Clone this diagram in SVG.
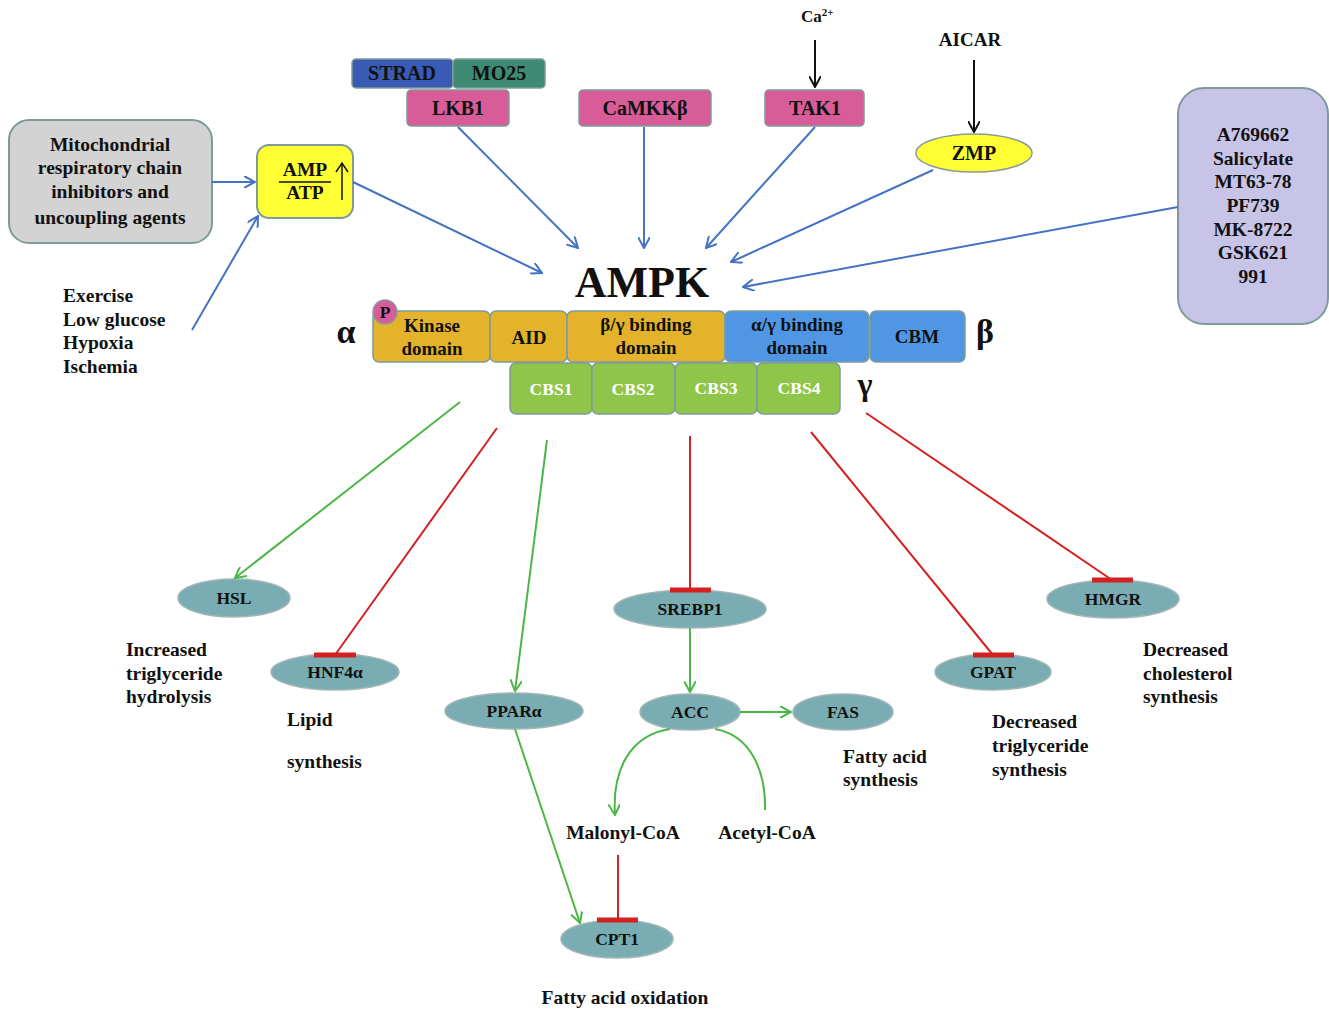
<svg xmlns="http://www.w3.org/2000/svg" width="1329" height="1010" viewBox="0 0 1329 1010">
<style>
text{font-family:"Liberation Serif","Times New Roman",serif;font-weight:bold;fill:#111}
.t{font-size:19.5px}
.n{font-size:17.5px;text-anchor:middle}
.b{font-size:20px;text-anchor:middle}
.d{font-size:19px;text-anchor:middle}
.c{text-anchor:middle}
.box{stroke:#7f9a9a;stroke-width:2}
.ell{fill:#79adb3;stroke:#a3b5b5;stroke-width:1.5}
.dom{stroke:#7f9a9a;stroke-width:1.5}
.blue{stroke:#4472c4;stroke-width:2;fill:none}
.green{stroke:#4cb648;stroke-width:2;fill:none}
.red{stroke:#d42020;stroke-width:2;fill:none}
.bar{stroke:#d42020;stroke-width:5}
.black{stroke:#111;stroke-width:2;fill:none}
</style>
<defs>
<marker id="ab" viewBox="0 0 12 12" refX="11" refY="6" markerWidth="12" markerHeight="12" markerUnits="userSpaceOnUse" orient="auto"><path d="M0,0 L11,6 L0,12" fill="none" stroke="#4472c4" stroke-width="2"/></marker>
<marker id="ag" viewBox="0 0 12 12" refX="11" refY="6" markerWidth="12" markerHeight="12" markerUnits="userSpaceOnUse" orient="auto"><path d="M0,0 L11,6 L0,12" fill="none" stroke="#4cb648" stroke-width="2"/></marker>
<marker id="ak" viewBox="0 0 12 12" refX="11" refY="6" markerWidth="12" markerHeight="12" markerUnits="userSpaceOnUse" orient="auto"><path d="M0,0 L11,6 L0,12" fill="none" stroke="#111" stroke-width="2"/></marker>
</defs>
<rect width="1329" height="1010" fill="#fff"/>

<g id="mito">
<rect class="box" x="9" y="120" width="203" height="123" rx="20" fill="#d3d3d3"/>
<text class="t c" x="110" y="151">Mitochondrial</text>
<text class="t c" x="110" y="174">respiratory chain</text>
<text class="t c" x="110" y="198">inhibitors and</text>
<text class="t c" x="110" y="224">uncoupling agents</text>
</g>

<g id="ampatp">
<rect class="box" x="257" y="145" width="96" height="73" rx="12" fill="#ffff33"/>
<text class="t c" x="305" y="176">AMP</text>
<line x1="279" y1="182" x2="331" y2="182" stroke="#111" stroke-width="1.5"/>
<text class="t c" x="305" y="199">ATP</text>
<line x1="342" y1="200" x2="342" y2="163" stroke="#111" stroke-width="1.5"/>
<path d="M336,172 L342,163 L348,172" fill="none" stroke="#111" stroke-width="1.5"/>
</g>

<g id="stimuli">
<text class="t" x="63" y="302">Exercise</text>
<text class="t" x="63" y="326">Low glucose</text>
<text class="t" x="63" y="349">Hypoxia</text>
<text class="t" x="63" y="373">Ischemia</text>
</g>

<g id="strad">
<rect class="dom" x="352" y="59" width="101" height="29" rx="4" fill="#3a5bb5"/>
<text class="b" x="402" y="80">STRAD</text>
</g>
<g id="mo25">
<rect class="dom" x="453" y="59" width="92" height="29" rx="4" fill="#3f8a72"/>
<text class="b" x="499" y="80">MO25</text>
</g>
<g id="lkb1">
<rect class="dom" x="407" y="90" width="102" height="36" rx="4" fill="#d75c98"/>
<text class="b" x="458" y="115">LKB1</text>
</g>
<g id="camkkb">
<rect class="dom" x="579" y="90" width="132" height="36" rx="4" fill="#d75c98"/>
<text class="b" x="645" y="115">CaMKKβ</text>
</g>
<g id="tak1">
<rect class="dom" x="765" y="90" width="99" height="36" rx="4" fill="#d75c98"/>
<text class="b" x="815" y="115">TAK1</text>
</g>
<g id="ca">
<text x="801" y="22" style="font-size:17px">Ca<tspan style="font-size:11px" dy="-6">2+</tspan></text>
</g>
<g id="aicar">
<text class="c" x="970" y="46" style="font-size:19px">AICAR</text>
</g>
<g id="zmp">
<ellipse cx="974" cy="153" rx="58" ry="19" fill="#ffff33" stroke="#8a9a9a" stroke-width="1.5"/>
<text class="b" x="974" y="160">ZMP</text>
</g>

<g id="activators">
<rect class="box" x="1178" y="88" width="150" height="236" rx="26" fill="#c7c4e8"/>
<text class="t c" x="1253" y="141">A769662</text>
<text class="t c" x="1253" y="165">Salicylate</text>
<text class="t c" x="1253" y="188">MT63-78</text>
<text class="t c" x="1253" y="212">PF739</text>
<text class="t c" x="1253" y="236">MK-8722</text>
<text class="t c" x="1253" y="259">GSK621</text>
<text class="t c" x="1253" y="283">991</text>
</g>

<g id="ampk">
<text class="c" x="642" y="297" style="font-size:44px">AMPK</text>
<text class="c" x="346" y="343" style="font-size:34px">α</text>
<text class="c" x="985" y="343" style="font-size:34px">β</text>
<text class="c" x="865" y="395" style="font-size:32px">γ</text>
<rect class="dom" x="373" y="311" width="117" height="51" rx="6" fill="#e3b32b"/>
<text class="d" x="432" y="332">Kinase</text>
<text class="d" x="432" y="355">domain</text>
<rect class="dom" x="490" y="311" width="77" height="51" rx="6" fill="#e3b32b"/>
<text class="d" x="529" y="344">AID</text>
<rect class="dom" x="567" y="311" width="158" height="51" rx="6" fill="#e3b32b"/>
<text class="d" x="646" y="331">β/γ binding</text>
<text class="d" x="646" y="354">domain</text>
<rect class="dom" x="725" y="311" width="144" height="51" rx="6" fill="#5097e3" stroke="#2f4a70"/>
<text class="d" x="797" y="331">α/γ binding</text>
<text class="d" x="797" y="354">domain</text>
<rect class="dom" x="870" y="311" width="95" height="51" rx="6" fill="#5097e3" stroke="#2f4a70"/>
<text class="d" x="917" y="343">CBM</text>
<circle cx="385" cy="312" r="12" fill="#d75c98" stroke="#8a9a9a" stroke-width="1.5"/>
<text class="n" x="385" y="318">P</text>
<rect class="dom" x="510" y="363" width="82" height="51" rx="6" fill="#8fc64a"/>
<text class="n" x="551" y="395" style="fill:#fff">CBS1</text>
<rect class="dom" x="592" y="363" width="83" height="51" rx="6" fill="#8fc64a"/>
<text class="n" x="633" y="395" style="fill:#fff">CBS2</text>
<rect class="dom" x="675" y="363" width="82" height="51" rx="6" fill="#8fc64a"/>
<text class="n" x="716" y="394" style="fill:#fff">CBS3</text>
<rect class="dom" x="757" y="363" width="83" height="51" rx="6" fill="#8fc64a"/>
<text class="n" x="799" y="394" style="fill:#fff">CBS4</text>
</g>

<g id="hsl"><ellipse class="ell" cx="234" cy="598" rx="56" ry="19"/><text class="n" x="234" y="604">HSL</text></g>
<g id="hnf4a"><ellipse class="ell" cx="335" cy="672" rx="64" ry="18"/><text class="n" x="335" y="678">HNF4α</text></g>
<g id="ppara"><ellipse class="ell" cx="514" cy="711" rx="69" ry="18"/><text class="n" x="514" y="717">PPARα</text></g>
<g id="srebp1"><ellipse class="ell" cx="690" cy="609" rx="76" ry="19"/><text class="n" x="690" y="615">SREBP1</text></g>
<g id="acc"><ellipse class="ell" cx="690" cy="712" rx="50" ry="18"/><text class="n" x="690" y="718">ACC</text></g>
<g id="fas"><ellipse class="ell" cx="843" cy="712" rx="50" ry="18"/><text class="n" x="843" y="718">FAS</text></g>
<g id="gpat"><ellipse class="ell" cx="993" cy="672" rx="58" ry="18"/><text class="n" x="993" y="678">GPAT</text></g>
<g id="hmgr"><ellipse class="ell" cx="1113" cy="599" rx="66" ry="19"/><text class="n" x="1113" y="605">HMGR</text></g>
<g id="cpt1"><ellipse class="ell" cx="617" cy="939" rx="56" ry="19"/><text class="n" x="617" y="945">CPT1</text></g>

<g id="labels">
<text class="t" x="126" y="656">Increased</text>
<text class="t" x="126" y="680">triglyceride</text>
<text class="t" x="126" y="703">hydrolysis</text>
<text class="t" x="287" y="726">Lipid</text>
<text class="t" x="287" y="768">synthesis</text>
<text class="t c" x="623" y="839">Malonyl-CoA</text>
<text class="t c" x="767" y="839">Acetyl-CoA</text>
<text class="t" x="843" y="763">Fatty acid</text>
<text class="t" x="843" y="786">synthesis</text>
<text class="t" x="992" y="728">Decreased</text>
<text class="t" x="992" y="752">triglyceride</text>
<text class="t" x="992" y="776">synthesis</text>
<text class="t" x="1143" y="656">Decreased</text>
<text class="t" x="1143" y="680">cholesterol</text>
<text class="t" x="1143" y="703">synthesis</text>
<text class="t c" x="625" y="1004">Fatty acid oxidation</text>
</g>

<g id="connectors">
<line class="blue" x1="212" y1="182" x2="255" y2="182" marker-end="url(#ab)"/>
<line class="blue" x1="192" y1="330" x2="258" y2="216" marker-end="url(#ab)"/>
<line class="blue" x1="353" y1="182" x2="542" y2="273" marker-end="url(#ab)"/>
<line class="blue" x1="458" y1="127" x2="578" y2="248" marker-end="url(#ab)"/>
<line class="blue" x1="644" y1="127" x2="644" y2="248" marker-end="url(#ab)"/>
<line class="blue" x1="815" y1="127" x2="706" y2="248" marker-end="url(#ab)"/>
<line class="blue" x1="933" y1="170" x2="731" y2="262" marker-end="url(#ab)"/>
<line class="blue" x1="1178" y1="207" x2="743" y2="287" marker-end="url(#ab)"/>
<line class="black" x1="815" y1="40" x2="815" y2="87" marker-end="url(#ak)"/>
<line class="black" x1="974" y1="60" x2="974" y2="132" marker-end="url(#ak)"/>

<line class="green" x1="460" y1="402" x2="235" y2="578" marker-end="url(#ag)"/>
<line class="red" x1="497" y1="428" x2="335" y2="655"/>
<line class="bar" x1="314" y1="655" x2="356" y2="655"/>
<line class="green" x1="547" y1="440" x2="515" y2="691" marker-end="url(#ag)"/>
<line class="red" x1="690" y1="436" x2="690" y2="590"/>
<line class="bar" x1="670" y1="590" x2="711" y2="590"/>
<line class="red" x1="811" y1="432" x2="993" y2="655"/>
<line class="bar" x1="973" y1="655" x2="1014" y2="655"/>
<line class="red" x1="866" y1="413" x2="1112" y2="580"/>
<line class="bar" x1="1092" y1="580" x2="1133" y2="580"/>
<line class="green" x1="690" y1="628" x2="690" y2="692" marker-end="url(#ag)"/>
<line class="green" x1="740" y1="712" x2="791" y2="712" marker-end="url(#ag)"/>
<path class="green" d="M670,729 C630,735 612,770 615,815" marker-end="url(#ag)"/>
<path class="green" d="M715,729 C750,735 766,770 765,810"/>
<line class="green" x1="515" y1="729" x2="580" y2="923" marker-end="url(#ag)"/>
<line class="red" x1="618" y1="855" x2="618" y2="920"/>
<line class="bar" x1="597" y1="920" x2="638" y2="920"/>
</g>
</svg>
